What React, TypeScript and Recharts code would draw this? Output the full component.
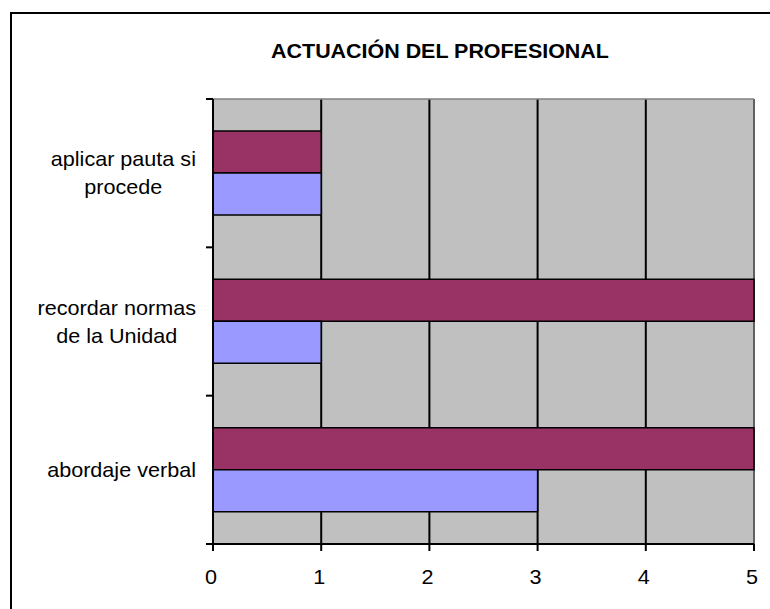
import { BarChart, Bar, XAxis, YAxis, CartesianGrid } from 'recharts'

const CATEGORIES = ['aplicar pauta si\nprocede', 'recordar normas\nde la Unidad', 'abordaje verbal']
const SERIES_A = [1, 5, 5] // purple, upper bar in each group
const SERIES_B = [1, 1, 3] // lavender, lower bar
const X_TICKS = [0, 1, 2, 3, 4, 5]
const TITLE = 'ACTUACIÓN DEL PROFESIONAL'

const W = 770
const H = 609
const TOP = 99
const LEFT = 213
const RIGHT = 16
const X_AXIS_H = 65
const PLOT_H = H - TOP - X_AXIS_H
const FONT = '"Liberation Sans", Arial, sans-serif'
const FONT_SIZE = 20
// the original chart was stretched a bit horizontally, text is wider than usual
const STRETCH = 1.08

const data = CATEGORIES.map((name, i) => ({ name, a: SERIES_A[i], b: SERIES_B[i] }))

let ctx: CanvasRenderingContext2D | null = null
function textWidth(s: string, size: number) {
  if (!ctx) ctx = document.createElement('canvas').getContext('2d')
  if (!ctx) return s.length * size * 0.5
  ctx.font = `${size}px ${FONT}`
  return ctx.measureText(s).width
}

function CategoryTick({ y, payload, index }: any) {
  const lines = String(payload.value).split('\n')
  const w = Math.max(...lines.map((l) => textWidth(l, FONT_SIZE))) * STRETCH
  const cx = LEFT - 17 - w / 2
  const band = PLOT_H / CATEGORIES.length
  const first = y - (lines.length - 1) * 14 + 7
  return (
    <g>
      <line x1={LEFT - 7} x2={LEFT} y1={y - band / 2} y2={y - band / 2} stroke="#000" strokeWidth={2} />
      {index === CATEGORIES.length - 1 && (
        <line x1={LEFT - 7} x2={LEFT} y1={y + band / 2} y2={y + band / 2} stroke="#000" strokeWidth={2} />
      )}
      {lines.map((l, i) => (
        <text
          key={i}
          transform={`translate(${cx},${first + i * 28}) scale(${STRETCH},1)`}
          textAnchor="middle"
          fontSize={FONT_SIZE}
          fontFamily={FONT}
          fill="#000"
        >
          {l}
        </text>
      ))}
    </g>
  )
}

function ValueTick({ x, payload }: any) {
  return (
    <text
      transform={`translate(${x - 2},${TOP + PLOT_H + 40}) scale(${STRETCH},1)`}
      textAnchor="middle"
      fontSize={FONT_SIZE}
      fontFamily={FONT}
      fill="#000"
    >
      {payload.value}
    </text>
  )
}

export default function App() {
  return (
    <div
      style={{
        position: 'fixed',
        left: 0,
        top: 0,
        width: W,
        height: H,
        overflow: 'hidden',
        background: '#fff',
      }}
    >
      <div
        style={{
          position: 'absolute',
          left: 10,
          top: 12,
          width: 900,
          height: 800,
          border: '2px solid #000',
        }}
      />
      <div style={{ position: 'absolute', left: 0, top: 0 }}>
        <BarChart
          width={W}
          height={H}
          data={data}
          layout="vertical"
          margin={{ top: TOP, right: RIGHT, bottom: 0, left: 0 }}
          barCategoryGap="21.6%"
          barGap={0}
        >
          <CartesianGrid horizontal={false} stroke="#000" strokeWidth={2} fill="#C0C0C0" />
          <CartesianGrid
            vertical={false}
            stroke="#808080"
            strokeWidth={1.5}
            horizontalCoordinatesGenerator={({ offset }: any) => [offset.top]}
          />
          <CartesianGrid
            horizontal={false}
            stroke="#808080"
            strokeWidth={1.5}
            verticalCoordinatesGenerator={({ offset }: any) => [offset.left + offset.width]}
          />
          <XAxis
            type="number"
            domain={[0, 5]}
            ticks={X_TICKS}
            height={X_AXIS_H}
            axisLine={{ stroke: '#000', strokeWidth: 2 }}
            tickLine={{ stroke: '#000', strokeWidth: 2 }}
            tickSize={7}
            tick={<ValueTick />}
            interval={0}
          />
          <YAxis
            type="category"
            dataKey="name"
            width={LEFT}
            axisLine={{ stroke: '#000', strokeWidth: 2 }}
            tickLine={false}
            tick={<CategoryTick />}
            interval={0}
          />
          <Bar dataKey="a" fill="#993366" stroke="#000" strokeWidth={1.5} isAnimationActive={false} />
          <Bar dataKey="b" fill="#9999FF" stroke="#000" strokeWidth={1.5} isAnimationActive={false} />
        </BarChart>
      </div>
      <svg width={W} height={H} style={{ position: 'absolute', left: 0, top: 0, pointerEvents: 'none' }}>
        <text
          transform={`translate(440,58) scale(1.1,1)`}
          textAnchor="middle"
          fontSize={19.5}
          fontWeight="bold"
          fontFamily={FONT}
          fill="#000"
        >
          {TITLE}
        </text>
      </svg>
    </div>
  )
}
